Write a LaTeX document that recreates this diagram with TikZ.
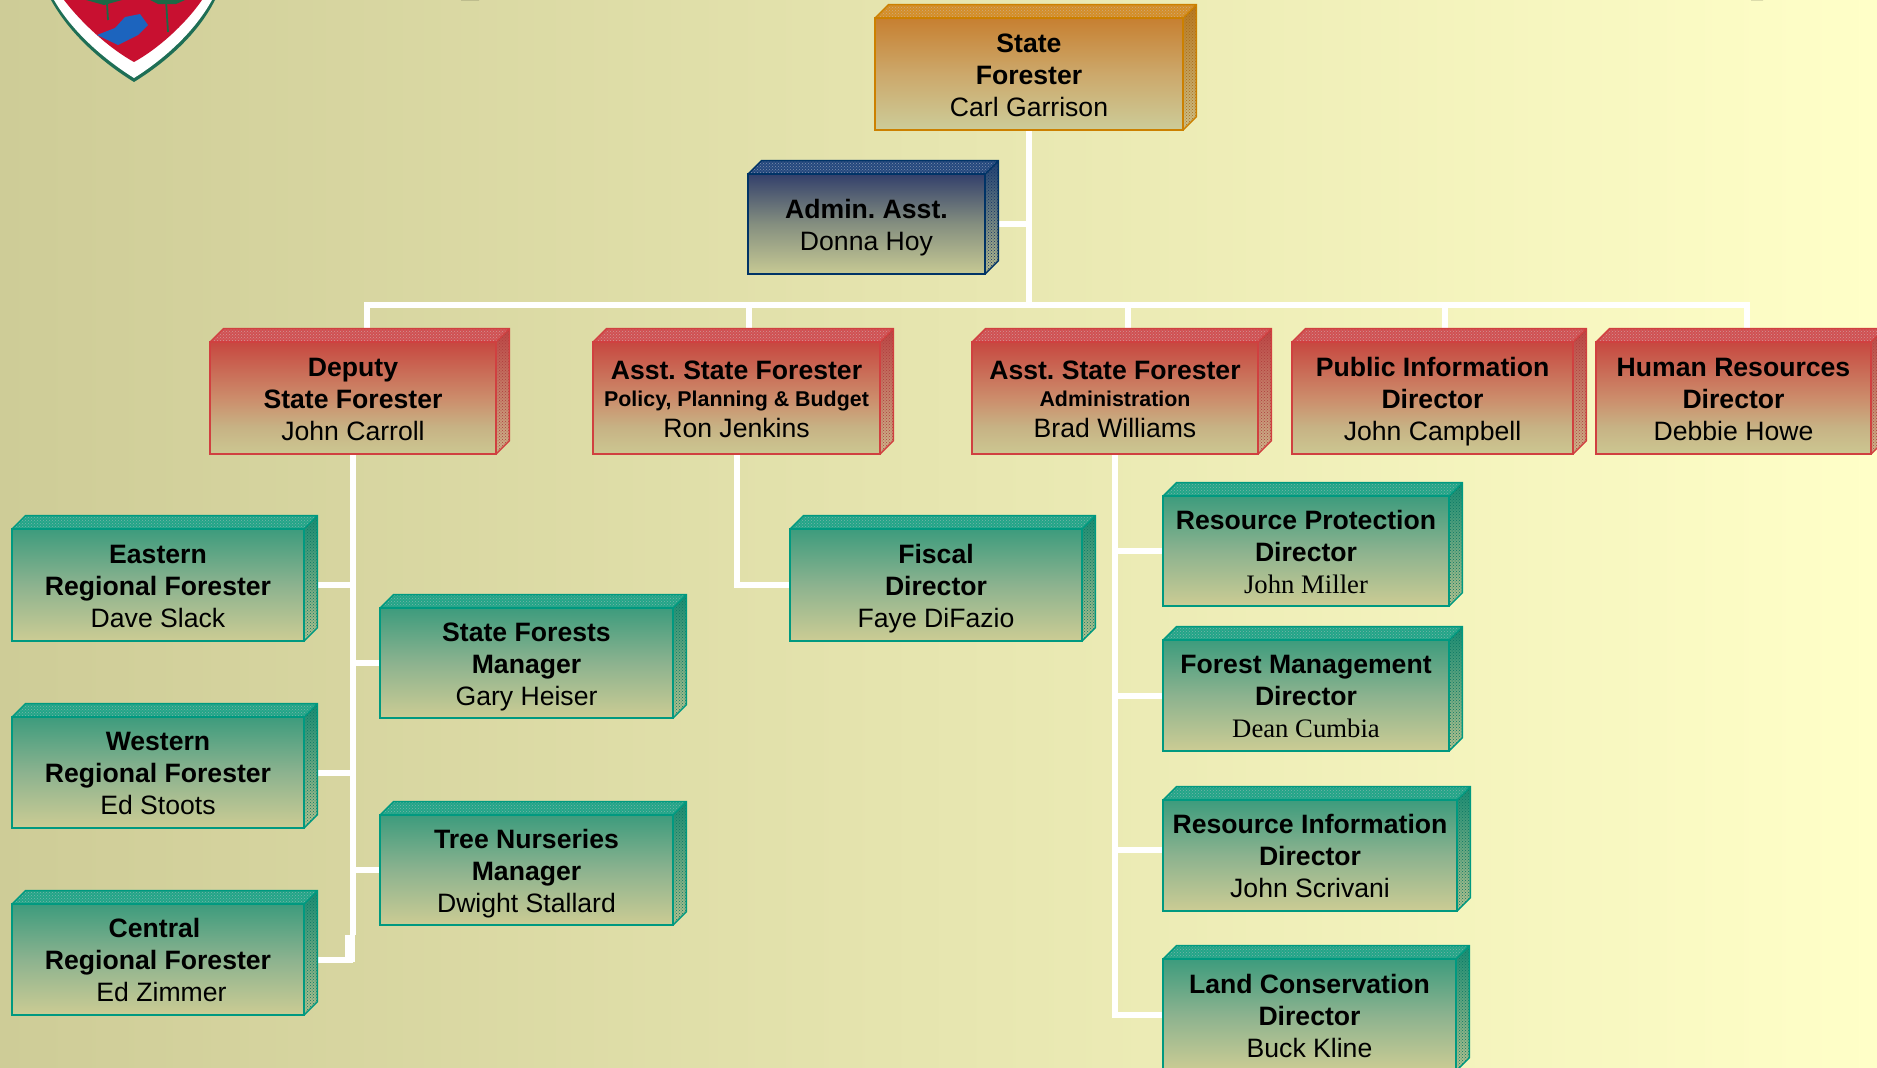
\documentclass[tikz,border=0pt]{standalone}
\usepackage{fontspec}
\setmainfont{Liberation Sans}
\newfontfamily\serfont{Liberation Serif}
\usetikzlibrary{patterns}
\pgfdeclarelayer{bgl}
\pgfdeclarelayer{connl}
\pgfsetlayers{bgl,connl,main}
\definecolor{edgered}{RGB}{208,64,64}
\definecolor{edgegreen}{RGB}{0,153,128}
\definecolor{edgeorange}{RGB}{204,128,0}
\definecolor{edgenavy}{RGB}{0,51,102}
\definecolor{topred}{RGB}{208,80,82}
\definecolor{topgreen}{RGB}{34,165,136}
\definecolor{toporange}{RGB}{212,142,40}
\definecolor{topnavy}{RGB}{36,72,126}
\definecolor{dotred}{RGB}{175,60,60}
\definecolor{dotgreen}{RGB}{10,120,100}
\definecolor{dotorange}{RGB}{170,105,20}
\definecolor{dotnavy}{RGB}{20,50,100}
\definecolor{shieldrim}{RGB}{30,110,85}
\definecolor{shieldred}{RGB}{200,16,48}
\definecolor{shieldblue}{RGB}{28,100,190}
\definecolor{shieldtree}{RGB}{28,105,70}
\pgfdeclareverticalshading{frontred}{100bp}{rgb(0bp)=(.80,.78,.57); rgb(25bp)=(.80,.78,.57); rgb(37bp)=(.78,.70,.52); rgb(50bp)=(.80,.55,.42); rgb(75bp)=(.78,.28,.25); rgb(100bp)=(.78,.28,.25)}
\pgfdeclareverticalshading{frontgreen}{100bp}{rgb(0bp)=(.80,.80,.58); rgb(25bp)=(.80,.80,.58); rgb(50bp)=(.55,.70,.56); rgb(75bp)=(.24,.61,.49); rgb(100bp)=(.24,.61,.49)}
\pgfdeclareverticalshading{frontorange}{100bp}{rgb(0bp)=(.80,.80,.60); rgb(25bp)=(.80,.80,.60); rgb(50bp)=(.80,.66,.42); rgb(75bp)=(.78,.50,.19); rgb(100bp)=(.78,.50,.19)}
\pgfdeclareverticalshading{frontnavy}{100bp}{rgb(0bp)=(.78,.79,.58); rgb(25bp)=(.78,.79,.58); rgb(50bp)=(.52,.56,.50); rgb(75bp)=(.20,.25,.42); rgb(100bp)=(.20,.25,.42)}
\pgfdeclareverticalshading{sidered}{100bp}{rgb(0bp)=(.80,.72,.55); rgb(25bp)=(.80,.72,.55); rgb(75bp)=(.74,.27,.27); rgb(100bp)=(.74,.27,.27)}
\pgfdeclareverticalshading{sidegreen}{100bp}{rgb(0bp)=(.72,.76,.56); rgb(25bp)=(.72,.76,.56); rgb(75bp)=(.10,.55,.45); rgb(100bp)=(.10,.55,.45)}
\pgfdeclareverticalshading{sideorange}{100bp}{rgb(0bp)=(.80,.76,.55); rgb(25bp)=(.80,.76,.55); rgb(75bp)=(.72,.47,.12); rgb(100bp)=(.72,.47,.12)}
\pgfdeclareverticalshading{sidenavy}{100bp}{rgb(0bp)=(.74,.76,.56); rgb(25bp)=(.74,.76,.56); rgb(75bp)=(.12,.25,.45); rgb(100bp)=(.12,.25,.45)}
\tikzset{
  orgnode/.style={rectangle,inner sep=0pt,outer sep=0pt,align=center,line width=1.6pt,
    font=\fontsize{26.6}{32}\selectfont\frenchspacing},
  conn/.style={draw=white,line width=6pt,line join=miter},
}
% name, colour, x0, ytop, x1, ybot, text
\newcommand{\orgbox}[7]{%
  \node[orgnode,draw=edge#2,shading=front#2,minimum width={(#5-#3)*1pt},minimum height={(#6-#4)*1pt}]
    (#1) at ({(#3+#5)/2},{(#4+#6)/2}) {\rule{0pt}{26pt}#7\rule[-6pt]{0pt}{6pt}};
  \fill[top#2] (#1.north west) -- ++(13.4,-13.4) -- ++({#5-#3},0) -- (#1.north east) -- cycle;
  \path[pattern=crosshatch dots,pattern color=dot#2!55] (#1.north west) -- ++(13.4,-13.4) -- ++({#5-#3},0) -- (#1.north east) -- cycle;
  \shade[shading=side#2] (#1.north east) -- ++(13.4,-13.4) -- ++(0,{#6-#4}) -- (#1.south east) -- cycle;
  \path[pattern=crosshatch dots,pattern color=dot#2] (#1.north east) -- ++(13.4,-13.4) -- ++(0,{#6-#4}) -- (#1.south east) -- cycle;
  \draw[edge#2,line width=1.4pt,line join=miter] (#1.north west) -- ++(13.4,-13.4) -- ++({#5-#3},0) -- ++(0,{#6-#4}) -- (#1.south east) (#1.north east) -- ++(13.4,-13.4);
  \draw[edge#2,line width=1.6pt] (#1.south west) rectangle (#1.north east);
}
\newcommand{\rb}[1]{\textbf{#1}}
\newcommand{\subline}[1]{\raisebox{2pt}{\fontsize{21.4}{29}\selectfont\textbf{#1}}}
\begin{document}
\begin{tikzpicture}[x=1pt,y=-1pt]
\useasboundingbox (0,0) rectangle (1877,1068);
\begin{pgfonlayer}{bgl}
  \shade[left color={rgb,255:red,206;green,204;blue,151},right color={rgb,255:red,255;green,255;blue,200}] (0,0) rectangle (1877,1068);
\end{pgfonlayer}
\clip (0,0) rectangle (1877,1068);
% shield
\fill[shieldrim] (51,0) .. controls (72,38) and (108,66) .. (134,82) .. controls (160,66) and (196,38) .. (215,0) -- cycle;
\fill[white] (54,0) .. controls (75,36) and (110,63) .. (134,78) .. controls (158,63) and (192,36) .. (212,0) -- cycle;
\fill[shieldred] (64,0) .. controls (84,26) and (112,50) .. (134,62) .. controls (156,50) and (184,26) .. (202,0) -- cycle;
\fill[shieldblue] (97,35) -- (115,28) -- (125,17) -- (140,14) -- (148,25) -- (138,35) -- (118,45) -- cycle;
\draw[shieldtree,line width=1.8pt] (107,3) -- (108,20) (166,0) -- (168,32);
\fill[shieldtree] (86,0) -- (122,0) -- (104,5) -- cycle (150,0) -- (185,0) -- (176,4) -- (158,4) -- cycle;
% remnants of the title at the top edge
\fill[black] (461,0) arc[x radius=9,y radius=2.6,start angle=180,end angle=360] -- cycle;
\fill[black] (1751,0) arc[x radius=6,y radius=2.6,start angle=180,end angle=360] -- cycle;

\orgbox{state}{orange}{875}{18}{1183}{130}{\rb{State}\\\rb{Forester}\\Carl Garrison}
\orgbox{admin}{navy}{748}{174}{985}{274}{\rb{Admin. Asst.}\\Donna Hoy}
\orgbox{deputy}{red}{210}{342}{496}{454}{\rb{Deputy}\\\rb{State Forester}\\John Carroll}
\orgbox{policy}{red}{593}{342}{880}{454}{\rb{Asst. State Forester}\\[-3pt]\subline{Policy, Planning \& Budget}\\[-3pt]Ron Jenkins}
\orgbox{administration}{red}{972}{342}{1258}{454}{\rb{Asst. State Forester}\\[-3pt]\subline{Administration}\\[-3pt]Brad Williams}
\orgbox{pubinfo}{red}{1292}{342}{1573}{454}{\rb{Public Information}\\\rb{Director}\\John Campbell}
\orgbox{hr}{red}{1596}{342}{1871}{454}{\rb{Human Resources}\\\rb{Director}\\Debbie Howe}
\orgbox{eastern}{green}{12}{529}{304}{641}{\rb{Eastern}\\\rb{Regional Forester}\\Dave Slack}
\orgbox{western}{green}{12}{717}{304}{828}{\rb{Western}\\\rb{Regional Forester}\\Ed Stoots}
\orgbox{central}{green}{12}{904}{304}{1015}{\rb{Central}\hspace*{7pt}\\\rb{Regional Forester}\\\hspace*{7pt}Ed Zimmer}
\orgbox{forests}{green}{380}{608}{673}{718}{\rb{State Forests}\\\rb{Manager}\\Gary Heiser}
\orgbox{nurseries}{green}{380}{815}{673}{925}{\rb{Tree Nurseries}\\\rb{Manager}\\Dwight Stallard}
\orgbox{fiscal}{green}{790}{529}{1082}{641}{\rb{Fiscal}\\\rb{Director}\\Faye DiFazio}
\orgbox{resprot}{green}{1163}{496}{1449}{606}{\rb{Resource Protection}\\\rb{Director}\\{\serfont\fontsize{26.7}{32}\selectfont John Miller}}
\orgbox{forestmgmt}{green}{1163}{640}{1449}{751}{\rb{Forest Management}\\\rb{Director}\\{\serfont\fontsize{26.7}{32}\selectfont Dean Cumbia}}
\orgbox{resinfo}{green}{1163}{800}{1457}{911}{\rb{Resource Information}\\\rb{Director}\\John Scrivani}
\orgbox{land}{green}{1163}{959}{1456}{1071}{\rb{Land Conservation}\\\rb{Director}\\Buck Kline}

\begin{pgfonlayer}{connl}
  \coordinate (busL) at (367,305);
  \coordinate (busR) at (1747,305);
  \coordinate (dropP) at (749,305);
  \coordinate (dropA) at (1128,305);
  \coordinate (dropI) at (1445,305);
  \coordinate (jogT) at (350,935);
  \coordinate (jogB) at (350,962);
  \coordinate (infoBr) at (1114,850);
  \draw[conn] (state.south) -- (state.south |- busL);
  \draw[conn] (admin.east) -- (admin.east -| state.south);
  \draw[conn] (deputy.north -| busL) -- (busL) -- (busR) -- (busR |- hr.north);
  \draw[conn] (dropP) -- (dropP |- policy.north);
  \draw[conn] (dropA) -- (dropA |- administration.north);
  \draw[conn] (dropI) -- (dropI |- pubinfo.north);
  \draw[conn] (deputy.south) -- (deputy.south |- jogT);
  \draw[conn] (central.east) -- (central.east -| deputy.south);
  \draw[conn,line width=10pt] (jogT) -- (jogB);
  \draw[conn] (eastern.east) -- (eastern.east -| deputy.south);
  \draw[conn] (western.east) -- (western.east -| deputy.south);
  \draw[conn] (forests.west) -- (forests.west -| deputy.south);
  \draw[conn] (nurseries.west) -- (nurseries.west -| deputy.south);
  \draw[conn] (policy.south) |- (fiscal.west);
  \draw[conn] (administration.south) |- (land.west);
  \draw[conn] (resprot.west) -- (resprot.west -| administration.south);
  \draw[conn] (forestmgmt.west) -- (forestmgmt.west -| administration.south);
  \draw[conn] (infoBr) -- (infoBr -| resinfo.west);
\end{pgfonlayer}
\end{tikzpicture}
\end{document}
